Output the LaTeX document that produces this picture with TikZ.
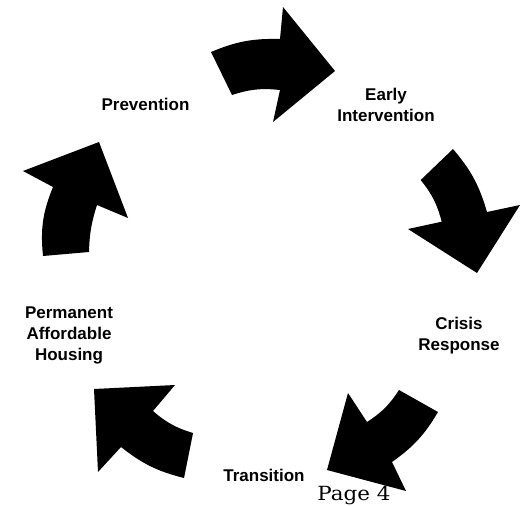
\documentclass[tikz,border=0pt]{standalone}
\usepackage{fontspec}
\newfontfamily\lblfont{Liberation Sans}
\newfontfamily\pagefont{DejaVu Serif}
\begin{document}
\begin{tikzpicture}[x=1pt,y=-1pt,
  blk/.style={fill=black,draw=none},
  lbl/.style={font=\lblfont\bfseries\fontsize{17}{21}\selectfont, align=center, inner sep=0pt},
  pagelbl/.style={font=\pagefont\fontsize{19.5}{24}\selectfont, inner sep=0pt, anchor=base, xscale=1.1}]
\useasboundingbox (0,0) rectangle (525,506);
\fill[white] (0,0) rectangle (525,506);
% top arrow
\fill[blk] (211,52) to[bend left=12] (280,39) -- (283,7) -- (335,71) -- (273,122) -- (280,90) to[bend right=12] (232,95) -- cycle;
% right arrow
\fill[blk] (453,149) to[bend left=12] (487,212) -- (520,205) -- (477,273) -- (408,229) -- (441.7,221.7) to[bend right=12] (420.7,180) -- cycle;
% bottom-right arrow
\fill[blk] (438,412) to[bend left=12] (392,462) -- (406,491) -- (327,470) -- (348,393) -- (367,422) to[bend right=12] (399,390) -- cycle;
% bottom-left arrow
\fill[blk] (184,478) to[bend left=12] (121,447) -- (98,472) -- (94,389) -- (175,385) -- (153,411) to[bend right=12] (193,433) -- cycle;
% left arrow
\fill[blk] (43,256) to[bend left=14] (53,187) -- (23,171) -- (99,142) -- (128,218) -- (97,205) to[bend right=8] (89,252) -- cycle;
% labels
\node[lbl, anchor=base] (prev) at (145.5,110) {Prevention};
\node[lbl] (early) at (386,104.5) {Early\\Intervention};
\node[lbl] (crisis) at (459,335.5) {Crisis\\Response};
\node[lbl] (perm) at (69,335) {Permanent\\Affordable\\Housing};
\node[lbl, anchor=base] (trans) at (264,481) {Transition};
\node[pagelbl] (page) at (354,500) {Page 4};
\end{tikzpicture}
\end{document}
